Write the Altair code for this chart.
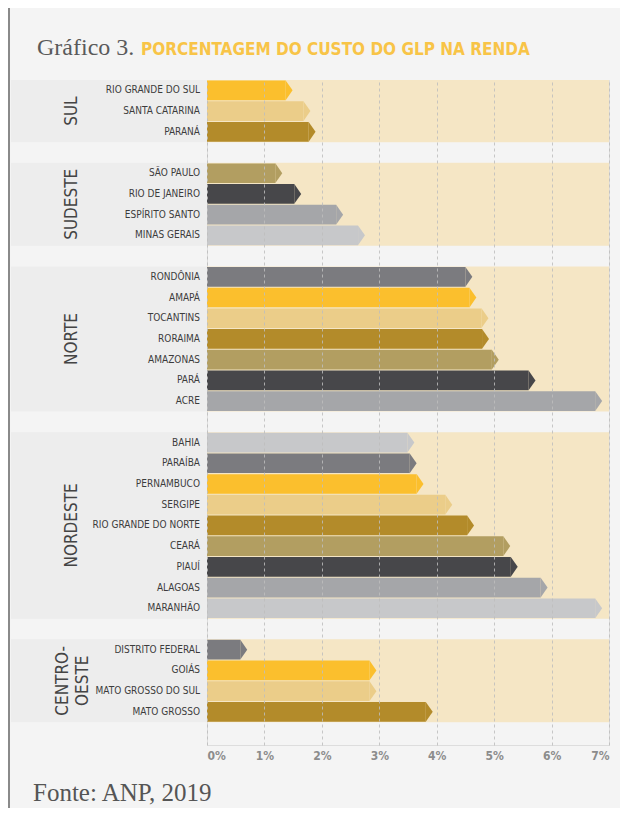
import altair as alt
import pandas as pd

# ---- data ----
regions = ["SUL", "SUDESTE", "NORTE", "NORDESTE", "CENTRO-OESTE"]

sul_states = ["RIO GRANDE DO SUL", "SANTA CATARINA", "PARANÁ"]
sul_values = [1.37, 1.68, 1.77]

sudeste_states = ["SÃO PAULO", "RIO DE JANEIRO", "ESPÍRITO SANTO", "MINAS GERAIS"]
sudeste_values = [1.19, 1.52, 2.25, 2.63]

norte_states = ["RONDÔNIA", "AMAPÁ", "TOCANTINS", "RORAIMA", "AMAZONAS", "PARÁ", "ACRE"]
norte_values = [4.50, 4.57, 4.78, 4.79, 4.96, 5.60, 6.76]

nordeste_states = ["BAHIA", "PARAÍBA", "PERNAMBUCO", "SERGIPE", "RIO GRANDE DO NORTE",
                   "CEARÁ", "PIAUÍ", "ALAGOAS", "MARANHÃO"]
nordeste_values = [3.49, 3.53, 3.65, 4.15, 4.53, 5.16, 5.29, 5.81, 6.76]

co_states = ["DISTRITO FEDERAL", "GOIÁS", "MATO GROSSO DO SUL", "MATO GROSSO"]
co_values = [0.58, 2.83, 2.83, 3.81]

x_ticks = [0, 1, 2, 3, 4, 5, 6, 7]

# ---- styles ----
palette = ["#fbbf2d", "#ebcd89", "#b38b2a", "#b29e61",
           "#47474a", "#a5a6a9", "#c7c8ca", "#7b7b7f"]
COND = "Liberation Sans Narrow, DejaVu Sans Condensed, Arial Narrow, sans-serif"
SERIF = "Liberation Serif, DejaVu Serif, serif"

# ---- build table ----
groups = [sul_states, sudeste_states, norte_states, nordeste_states, co_states]
vals = [sul_values, sudeste_values, norte_values, nordeste_values, co_values]
rows = []
i = 0
for gi, (reg, sts, vs) in enumerate(zip(regions, groups, vals)):
    for s, v in zip(sts, vs):
        rows.append({"region": reg, "state": s, "value": v, "slot": i + gi})
        i += 1
df = pd.DataFrame(rows)
all_states = list(df["state"])

yscale = alt.Scale(domain=[-0.5, 31.6], reverse=True, nice=False, zero=False)
xscale = alt.Scale(domain=[0, 7], nice=False, zero=True)

base = alt.Chart(df)

agg = base.transform_aggregate(
    lo="min(slot)", hi="max(slot)", groupby=["region"]
).transform_calculate(y0="datum.lo - 0.5", y1="datum.hi + 0.5")

panel = agg.mark_rect(color="#ededed").encode(
    x=alt.value(-196), x2=alt.value(0),
    y=alt.Y("y0:Q", scale=yscale, axis=None), y2="y1:Q",
)

band = agg.mark_rect(color="#f5e6c5").encode(
    x=alt.X("zero:Q", scale=xscale, title=None,
            axis=alt.Axis(values=x_ticks, labelExpr="datum.value + '%'", grid=True,
                          gridDash=[3, 3], gridColor="#bdbdbd", gridOpacity=0.85,
                          domain=False, ticks=False, labelFont=COND, labelFontSize=12,
                          labelFontWeight="bold", labelColor="#8c8c8c", labelPadding=5,
                          zindex=1)),
    x2="seven:Q",
    y=alt.Y("y0:Q", scale=yscale, axis=None), y2="y1:Q",
).transform_calculate(zero="0", seven="7")

bars = base.transform_calculate(
    y0="datum.slot - 0.475", y1="datum.slot + 0.475"
).mark_rect().encode(
    x=alt.X("value:Q", scale=xscale, title=None), x2=alt.datum(0),
    y=alt.Y("y0:Q", scale=yscale, axis=None), y2="y1:Q",
    color=alt.Color("state:N", scale=alt.Scale(domain=all_states, range=palette), legend=None),
)

tips = base.mark_point(
    shape="M0,-1L0.7,0L0,1Z", filled=True, opacity=1, strokeWidth=0, size=390
).encode(
    x=alt.X("value:Q", scale=xscale, title=None),
    y=alt.Y("slot:Q", scale=yscale, axis=None),
    color=alt.Color("state:N", scale=alt.Scale(domain=all_states, range=palette), legend=None),
)

state_labels = base.mark_text(
    align="right", baseline="middle", font=COND, fontSize=10, color="#3c3c3c", dx=-7
).encode(
    x=alt.value(0),
    y=alt.Y("slot:Q", scale=yscale, axis=None),
    text="state:N",
)

region_base = base.transform_aggregate(
    mid="mean(slot)", groupby=["region"]
).transform_calculate(
    lab="replace(datum.region, '-', '-\\n')"
)

region_labels = region_base.transform_filter(
    "datum.region != 'CENTRO-OESTE'"
).mark_text(
    angle=270, align="center", baseline="middle", font=COND, fontSize=17,
    color="#444444"
).encode(
    x=alt.value(-135),
    y=alt.Y("mid:Q", scale=yscale, axis=None),
    text="lab:N",
)

region_labels_co = region_base.transform_filter(
    "datum.region == 'CENTRO-OESTE'"
).mark_text(
    angle=270, align="center", baseline="middle", font=COND, fontSize=17,
    color="#444444", lineBreak="\n", lineHeight=20
).encode(
    x=alt.value(-144),
    y=alt.Y("mid:Q", scale=yscale, axis=None),
    text="lab:N",
)

ann = alt.Chart(pd.DataFrame({"k": [0]}))
title1 = ann.mark_text(text="Gráfico 3.", font=SERIF, fontSize=24, color="#5a5a5a",
                       align="left", baseline="alphabetic").encode(
    x=alt.value(-170), y=alt.value(-25))
title2 = ann.mark_text(text="PORCENTAGEM DO CUSTO DO GLP NA RENDA", font=COND, fontSize=17,
                       fontWeight="bold", color="#f8c447", align="left",
                       baseline="alphabetic").encode(
    x=alt.value(-66), y=alt.value(-25))
source = ann.mark_text(text="Fonte: ANP, 2019", font=SERIF, fontSize=25, color="#555555",
                       align="left", baseline="alphabetic").encode(
    x=alt.value(-174), y=alt.value(721))
border = ann.mark_rule(color="#8a8a8a", strokeWidth=2).encode(
    x=alt.value(-198), y=alt.value(-72), y2=alt.value(728))

chart = alt.layer(
    panel, band, bars, tips, state_labels, region_labels, region_labels_co,
    title1, title2, source, border
).properties(
    width=402, height=665,
    padding={"left": 199, "top": 72, "right": 11, "bottom": 63},
    autosize=alt.AutoSizeParams(type="none"),
).configure_view(stroke=None).configure(background="#f4f4f4")

chart.save("out.html", embed_options={"renderer": "svg", "actions": False})
